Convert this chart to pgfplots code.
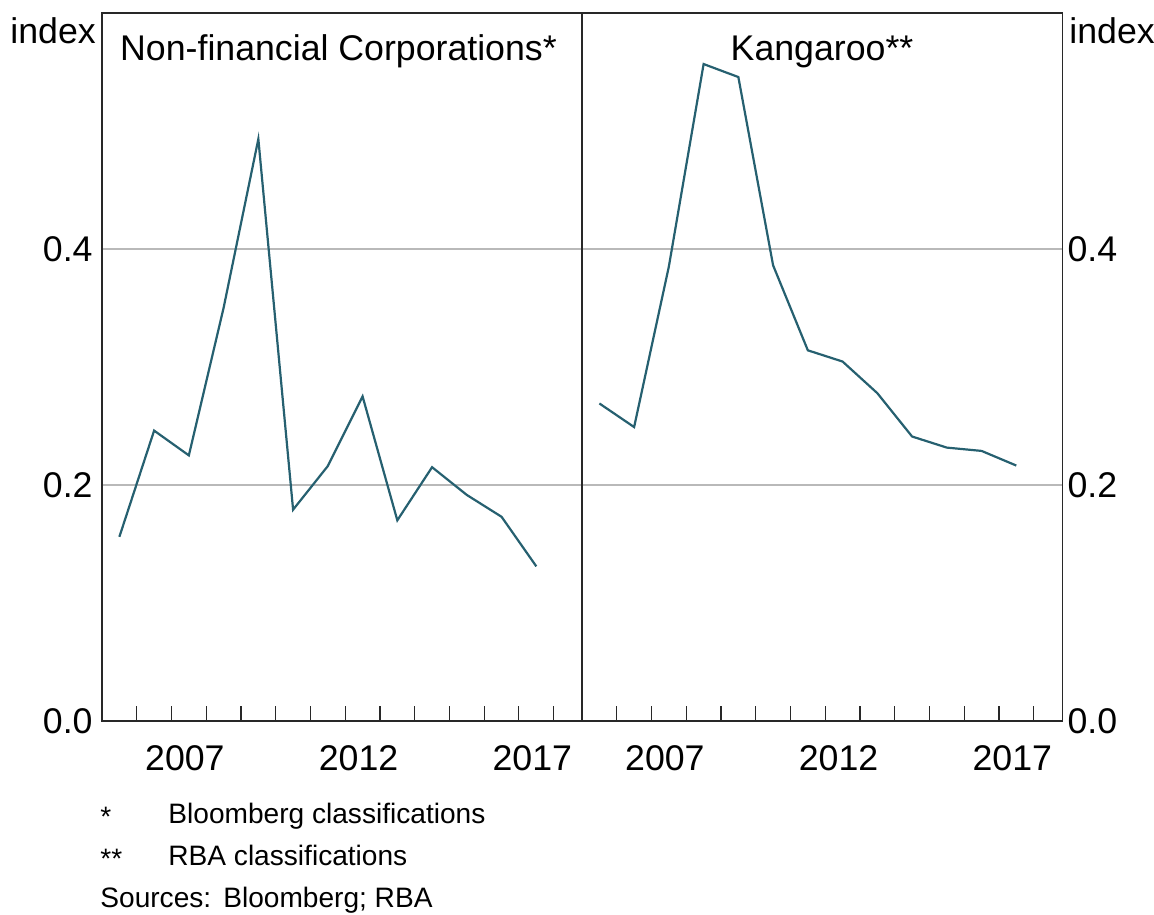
\documentclass[border=0pt]{standalone}
\usepackage{fontspec}
\setmainfont{Liberation Sans}
\usepackage{pgfplots}
\pgfplotsset{compat=1.18}
\definecolor{rbateal}{RGB}{38,96,112}
\definecolor{axcol}{RGB}{40,40,40}
\definecolor{gridcol}{RGB}{185,185,185}
\newcommand{\mainf}{\fontsize{17.85}{21}\selectfont}
\newcommand{\footf}{\fontsize{14.05}{17}\selectfont}

\begin{document}
\begin{tikzpicture}
\path[use as bounding box] (0,0) rectangle (577pt,-457pt);
\pgfplotsset{panel/.style={
  scale only axis, width=240.25pt, height=354.15pt,
  xmin=2005, xmax=2018.83, ymin=0, ymax=0.6,
  xtick={2006,...,2018}, xticklabels={},
  xtick pos=bottom, tick align=inside,
  major tick length=7.5pt,
  x tick style={axcol, line width=0.6pt},
  extra x ticks={2007.5,2012.5,2017.5},
  extra x tick labels={2007,2012,2017},
  extra x tick style={major tick length=0pt},
  ytick={0,0.2,0.4}, yticklabels={0.0,0.2,0.4},
  y tick style={draw=none},
  ymajorgrids, major grid style={gridcol, line width=0.7pt},
  axis line style={axcol, line width=0.9pt},
  tick label style={font=\mainf, inner sep=0pt},
  xticklabel style={anchor=north, yshift=-12pt, xshift=-2pt},
}}

\begin{axis}[panel, at={(51pt,-360.5pt)}, anchor=south west,
  ytick pos=left, yticklabel style={anchor=east, xshift=-4.5pt}]
\addplot[rbateal, line width=1.1pt] coordinates {
(2005.5,0.156) (2006.5,0.246) (2007.5,0.225) (2008.5,0.350) (2009.5,0.493)
(2010.5,0.179) (2011.5,0.216) (2012.5,0.275) (2013.5,0.170) (2014.5,0.215)
(2015.5,0.1915) (2016.5,0.173) (2017.5,0.131)};
\end{axis}

\begin{axis}[panel, at={(291pt,-360.5pt)}, anchor=south west,
  ytick pos=right, yticklabel pos=right, yticklabel style={anchor=west, xshift=2.3pt}]
\addplot[rbateal, line width=1.1pt] coordinates {
(2005.5,0.269) (2006.5,0.249) (2007.5,0.385) (2008.5,0.5565) (2009.5,0.5455)
(2010.5,0.386) (2011.5,0.314) (2012.5,0.3045) (2013.5,0.2777) (2014.5,0.241)
(2015.5,0.2316) (2016.5,0.2288) (2017.5,0.2164)};
\end{axis}

\node[font=\mainf, anchor=base, inner sep=0pt] at (169.25pt,-30.5pt) {Non-financial Corporations*};
\node[font=\mainf, anchor=base, inner sep=0pt] at (411pt,-30.5pt) {Kangaroo**};
\node[font=\mainf, anchor=base west, inner sep=0pt] at (5pt,-22pt) {index};
\node[font=\mainf, anchor=base west, inner sep=0pt] at (534.5pt,-22pt) {index};

\node[font=\footf, anchor=base west, inner sep=0pt] at (50pt,-413pt) {*};
\node[font=\footf, anchor=base west, inner sep=0pt] at (84pt,-411.5pt) {Bloomberg classifications};
\node[font=\footf, anchor=base west, inner sep=0pt] at (50pt,-434pt) {**};
\node[font=\footf, anchor=base west, inner sep=0pt] at (84pt,-432.5pt) {RBA classifications};
\node[font=\footf, anchor=base west, inner sep=0pt] at (50pt,-453.5pt) {Sources:\hspace{6pt}Bloomberg; RBA};
\end{tikzpicture}
\end{document}
